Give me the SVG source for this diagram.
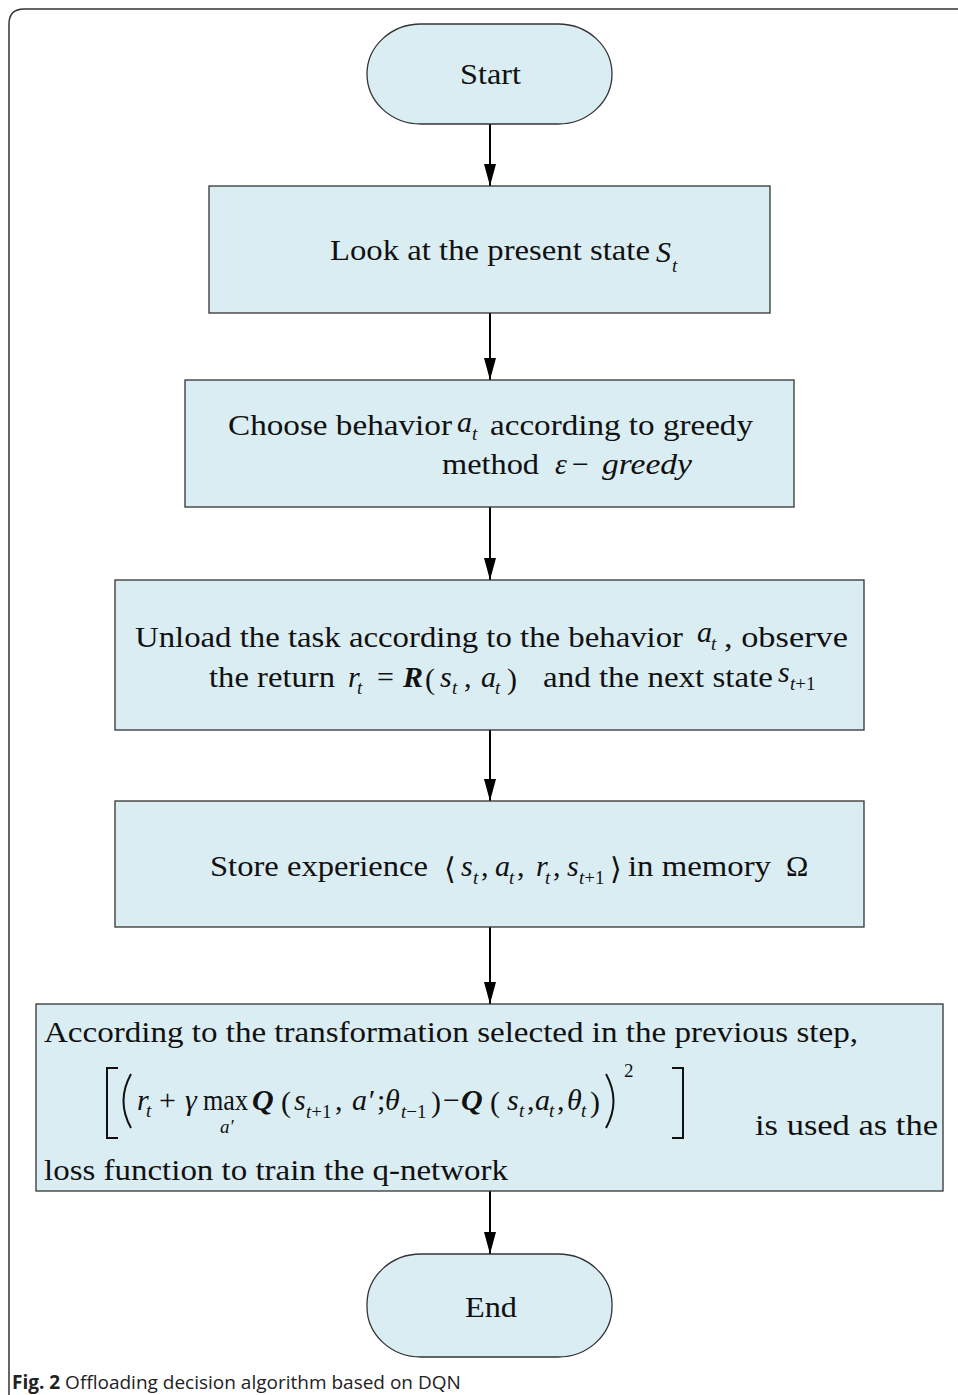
<svg xmlns="http://www.w3.org/2000/svg" width="958" height="1395" viewBox="0 0 958 1395">
<defs>
<marker id="ah" markerWidth="12" markerHeight="22" refX="6" refY="22" orient="0" markerUnits="userSpaceOnUse" viewBox="0 0 12 22">
<path d="M0,0 L12,0 L6,22 Z" fill="#000"/>
</marker>
<style>
.node{fill:#daedf3;stroke:#333;stroke-width:1.3}
.t{font-family:'Liberation Serif','Times New Roman',Tinos,'Nimbus Roman',serif;font-size:30px;fill:#111}
.i{font-style:italic}
.b{font-weight:bold}
.s{font-size:19px}
.conn{stroke:#000;stroke-width:2;fill:none}
.cap{font-family:'Open Sans','Noto Sans',sans-serif;font-size:19px;fill:#222}
</style>
</defs>
<rect width="958" height="1395" fill="#fff"/>
<path d="M9,1395 V24 Q9,9 24,9 H958" fill="none" stroke="#333" stroke-width="1.5"/>

<g id="connectors">
<line class="conn" x1="490" y1="124" x2="490" y2="186" marker-end="url(#ah)"/>
<line class="conn" x1="490" y1="313" x2="490" y2="380" marker-end="url(#ah)"/>
<line class="conn" x1="490" y1="507" x2="490" y2="580" marker-end="url(#ah)"/>
<line class="conn" x1="490" y1="730" x2="490" y2="801" marker-end="url(#ah)"/>
<line class="conn" x1="490" y1="927" x2="490" y2="1004" marker-end="url(#ah)"/>
<line class="conn" x1="490" y1="1191" x2="490" y2="1254" marker-end="url(#ah)"/>
</g>

<g id="start">
<rect class="node" x="367" y="24" width="245" height="100" rx="54" ry="50"/>
<text class="t" font-family="Liberation Serif" x="460" y="84" textLength="61" lengthAdjust="spacingAndGlyphs">Start</text>
</g>

<g id="observe" font-family="Liberation Serif">
<rect class="node" x="209" y="186" width="561" height="127"/>
<text class="t" x="330" y="260" textLength="320" lengthAdjust="spacingAndGlyphs">Look at the present state</text>
<text class="t i" x="656" y="262" font-size="32">S</text>
<text class="t i s" x="672" y="272">t</text>
</g>

<g id="choose">
<rect class="node" x="185" y="380" width="609" height="127"/>
<text class="t" x="228" y="435" textLength="224" lengthAdjust="spacingAndGlyphs">Choose behavior</text>
<text class="t i" x="457" y="432">a</text>
<text class="t i s" x="472" y="440">t</text>
<text class="t" x="490" y="435" textLength="263" lengthAdjust="spacingAndGlyphs">according to greedy</text>
<text class="t" x="442" y="474" textLength="97" lengthAdjust="spacingAndGlyphs">method</text>
<text class="t i" x="555" y="474">ε</text>
<text class="t" x="572" y="474">−</text>
<text class="t i" x="602" y="474" textLength="90" lengthAdjust="spacingAndGlyphs">greedy</text>
</g>

<g id="unload">
<rect class="node" x="115" y="580" width="749" height="150"/>
<text class="t" x="135" y="647" textLength="548" lengthAdjust="spacingAndGlyphs">Unload the task according to the behavior</text>
<text class="t i" x="697" y="642">a</text>
<text class="t i s" x="711" y="650">t</text>
<text class="t" x="724" y="647" textLength="124" lengthAdjust="spacingAndGlyphs">, observe</text>
<text class="t" x="209" y="687" textLength="126" lengthAdjust="spacingAndGlyphs">the return</text>
<text class="t i" x="348" y="687">r</text>
<text class="t i s" x="357" y="694">t</text>
<text class="t" x="377" y="687">=</text>
<text class="t i b" x="403" y="687">R</text>
<text class="t" x="425" y="689" font-size="38">(</text>
<text class="t i" x="440" y="687">s</text>
<text class="t i s" x="452" y="694">t</text>
<text class="t" x="464" y="687">,</text>
<text class="t i" x="481" y="687">a</text>
<text class="t i s" x="495" y="694">t</text>
<text class="t" x="507" y="689" font-size="38">)</text>
<text class="t" x="543" y="687" textLength="230" lengthAdjust="spacingAndGlyphs">and the next state</text>
<text class="t i" x="778" y="682">s</text>
<text class="t s" x="790" y="690"><tspan class="i">t</tspan>+1</text>
</g>

<g id="store">
<rect class="node" x="115" y="801" width="749" height="126"/>
<text class="t" x="210" y="876" textLength="218" lengthAdjust="spacingAndGlyphs">Store experience</text>
<text class="t" x="444" y="879" font-size="40">⟨</text>
<text class="t i" x="461" y="876">s</text>
<text class="t i s" x="473" y="884">t</text>
<text class="t" x="481" y="876">,</text>
<text class="t i" x="495" y="876">a</text>
<text class="t i s" x="509" y="884">t</text>
<text class="t" x="517" y="876">,</text>
<text class="t i" x="536" y="876">r</text>
<text class="t i s" x="545" y="884">t</text>
<text class="t" x="553" y="876">,</text>
<text class="t i" x="567" y="876">s</text>
<text class="t s" x="579" y="884"><tspan class="i">t</tspan>+1</text>
<text class="t" x="610" y="879" font-size="40">⟩</text>
<text class="t" x="628" y="876" textLength="143" lengthAdjust="spacingAndGlyphs">in memory</text>
<text class="t" x="786" y="876">Ω</text>
</g>

<g id="train">
<rect class="node" x="36" y="1004" width="907" height="187"/>
<text class="t" x="44" y="1042" textLength="814" lengthAdjust="spacingAndGlyphs">According to the transformation selected in the previous step,</text>
<path d="M118,1068 H107 V1138 H118 M672,1068 H683 V1138 H672" fill="none" stroke="#111" stroke-width="2"/>
<path d="M131,1074 Q116,1101 131,1128 M606,1074 Q621,1101 606,1128" fill="none" stroke="#111" stroke-width="2"/>
<text class="t i" x="137" y="1110">r</text>
<text class="t i s" x="146" y="1117">t</text>
<text class="t" x="159" y="1110">+</text>
<text class="t i" x="185" y="1110">γ</text>
<text class="t" x="203" y="1110" textLength="45" lengthAdjust="spacingAndGlyphs">max</text>
<text class="t i s" x="220" y="1133">a′</text>
<text class="t i b" x="252" y="1110">Q</text>
<text class="t" x="281" y="1112" font-size="38">(</text>
<text class="t i" x="294" y="1110">s</text>
<text class="t s" x="306" y="1118"><tspan class="i">t</tspan>+1</text>
<text class="t" x="335" y="1110">,</text>
<text class="t i" x="352" y="1110">a′</text>
<text class="t" x="377" y="1110">;</text>
<text class="t i" x="385" y="1110">θ</text>
<text class="t s" x="401" y="1118"><tspan class="i">t</tspan>−1</text>
<text class="t" x="431" y="1112" font-size="38">)</text>
<text class="t" x="443" y="1110">−</text>
<text class="t i b" x="461" y="1110">Q</text>
<text class="t" x="490" y="1112" font-size="38">(</text>
<text class="t i" x="507" y="1110">s</text>
<text class="t i s" x="519" y="1117">t</text>
<text class="t" x="527" y="1110">,</text>
<text class="t i" x="535" y="1110">a</text>
<text class="t i s" x="549" y="1117">t</text>
<text class="t" x="557" y="1110">,</text>
<text class="t i" x="567" y="1110">θ</text>
<text class="t i s" x="581" y="1117">t</text>
<text class="t" x="590" y="1112" font-size="38">)</text>
<text class="t s" x="624" y="1077">2</text>
<text class="t" x="755" y="1135" textLength="183" lengthAdjust="spacingAndGlyphs">is used as the</text>
<text class="t" x="44" y="1180" textLength="464" lengthAdjust="spacingAndGlyphs">loss function to train the q-network</text>
</g>

<g id="end">
<rect class="node" x="367" y="1254" width="245" height="103" rx="54" ry="50"/>
<text class="t" x="465" y="1317" textLength="52" lengthAdjust="spacingAndGlyphs">End</text>
</g>

<g id="caption">
<text class="cap" x="12" y="1389"><tspan font-weight="bold">Fig. 2</tspan> Offloading decision algorithm based on DQN</text>
</g>
</svg>
